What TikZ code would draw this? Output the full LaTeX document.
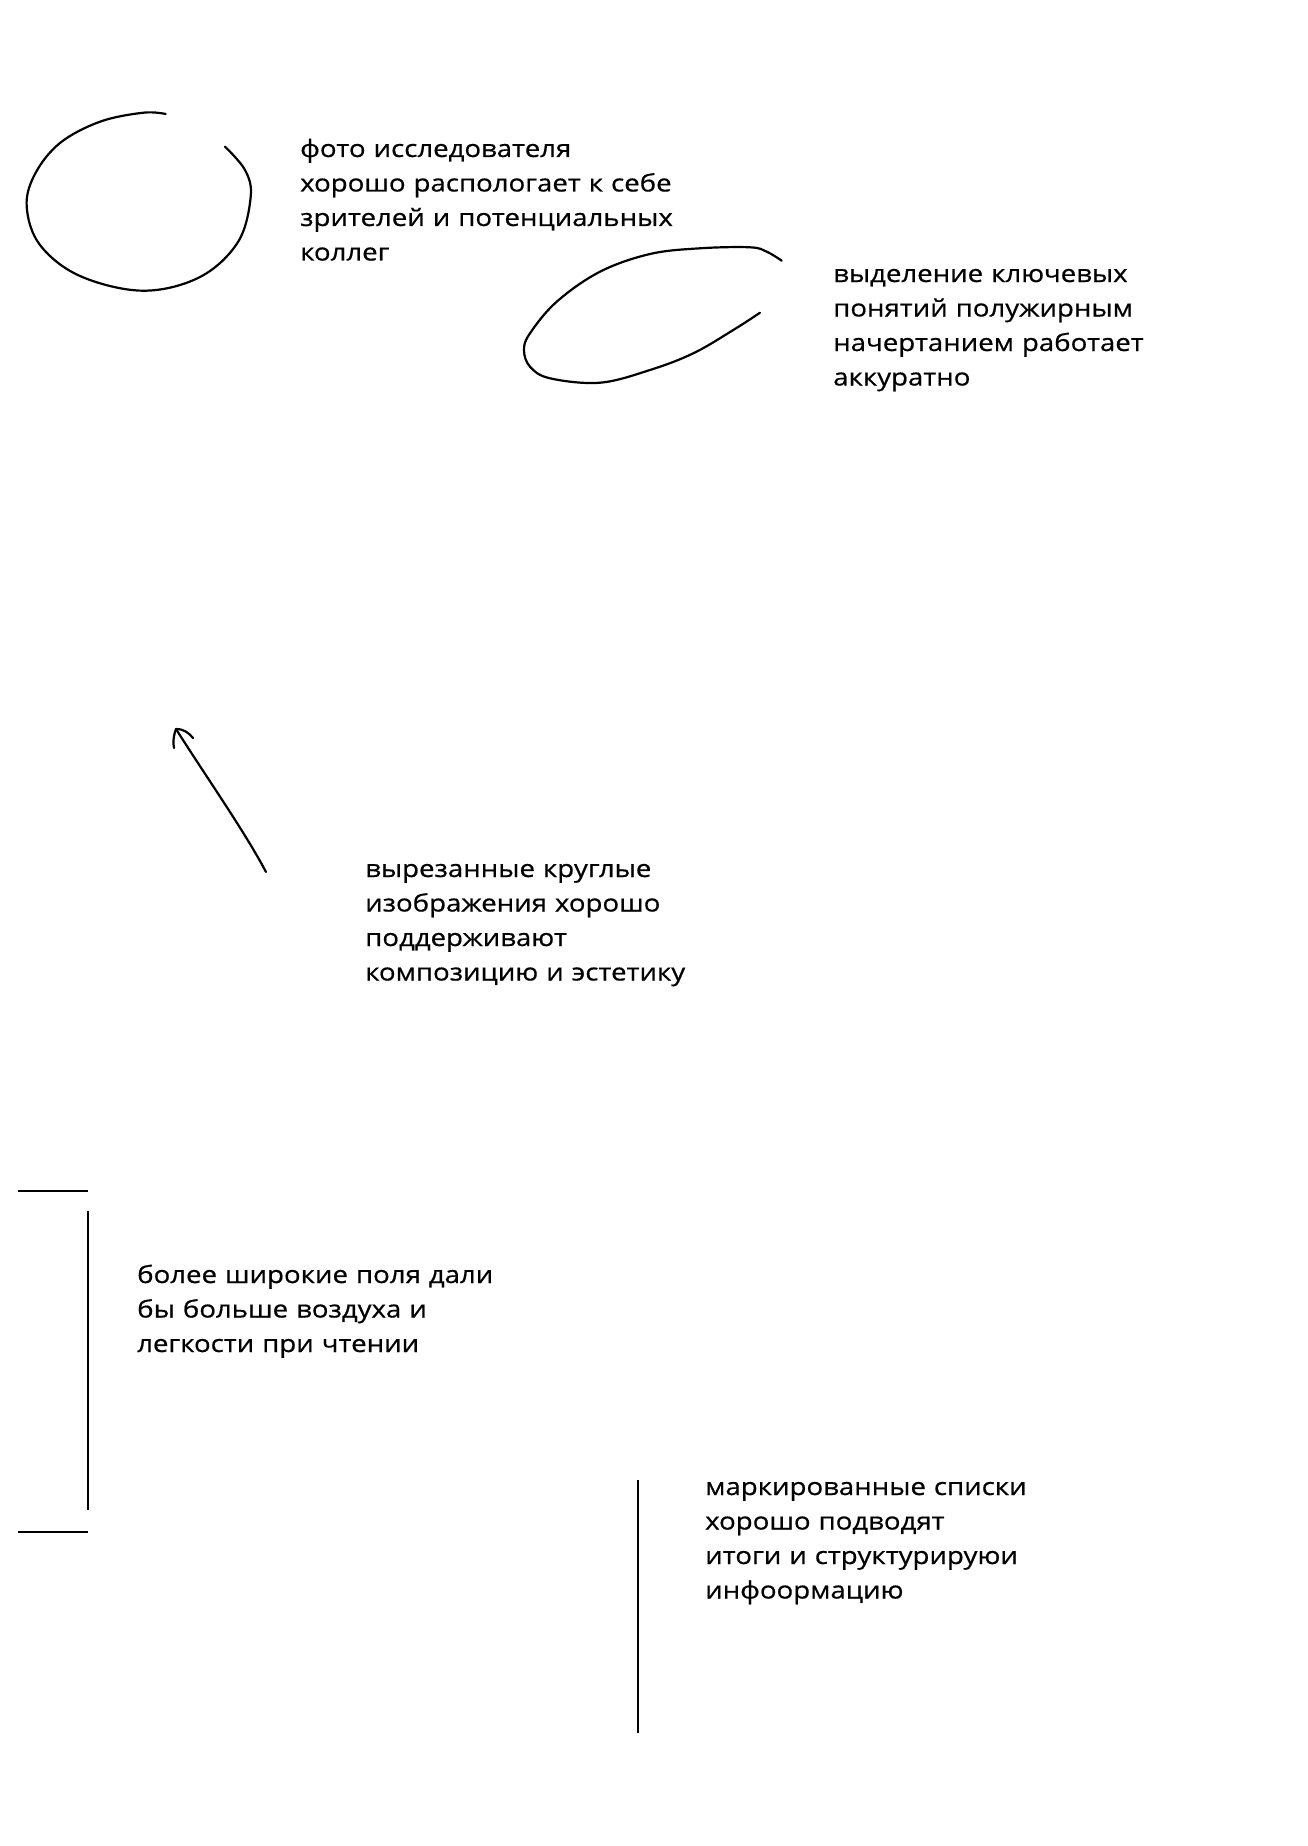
\documentclass[tikz,border=0pt]{standalone}
\usepackage{fontspec}
\setmainfont[FakeStretch=1.15,FakeBold=0.6]{Open Sans}
\begin{document}
\begin{tikzpicture}[x=1pt,y=-1pt,
  ink/.style={line width=2.2pt,line cap=round,line join=round,black},
  rule/.style={line width=2pt,black},
  note/.style={anchor=base west,inner sep=0pt,text width=520pt,align=left,
    font=\fontsize{24}{34.5}\selectfont}]
\useasboundingbox[fill=white] (0,0) rectangle (1308,1846);

% circle 1
\draw[ink] plot[smooth,tension=0.6] coordinates {(165.7,114) (143.3,112.7) (100,121.7) (60,143) (35,174) (26.7,206.7) (40,245) (80,276) (143,290.7) (200,277) (238,242) (250.7,196.7) (245,170) (225,146.7)};

% oval 2
\draw[ink] plot[smooth,tension=0.6] coordinates {(781.7,260.7) (766.7,251.7) (750,247.3) (700,248.3) (650,254) (600,271.7) (556.7,301.7) (530,333.3) (524,350) (530,366.7) (550,378.3) (600,382.7) (650,370) (693.3,353.3) (733.3,330) (760,312.7)};

% arrow
\coordinate (atail) at (266,872);
\coordinate (atip) at (176,729);
\draw[ink] (atail) .. controls (245,832) and (205,775) .. (atip);
\draw[ink] (174,748) .. controls (172.5,742) and (174,734) .. (atip)
  .. controls (184,729) and (189,733) .. (193,738);

% bracket lines
\coordinate (b1) at (18,1191); \coordinate (b2) at (88,1191);
\coordinate (b3) at (88,1211); \coordinate (b4) at (88,1510);
\coordinate (b5) at (18,1532); \coordinate (b6) at (88,1532);
\draw[rule] (b1) -- (b2);
\draw[rule] (b3) -- (b4);
\draw[rule] (b5) -- (b6);
\coordinate (v1) at (638,1480); \coordinate (v2) at (638,1733);
\draw[rule] (v1) -- (v2);

% texts
\node[note] (t1) at (300,157) {фото исследователя\\хорошо распологает к себе\\зрителей и потенциальных\\коллег};
\node[note] (t2) at (833,282) {выделение ключевых\\понятий полужирным\\начертанием работает\\аккуратно};
\node[note] (t3) at (365,877) {вырезанные круглые\\изображения хорошо\\поддерживают\\композицию и эстетику};
\node[note] (t4) at (137,1283) {более широкие поля дали\\бы больше воздуха и\\легкости при чтении};
\node[note] (t5) at (705,1495) {маркированные списки\\хорошо подводят\\итоги и структурируюи\\инфоормацию};
\end{tikzpicture}
\end{document}
